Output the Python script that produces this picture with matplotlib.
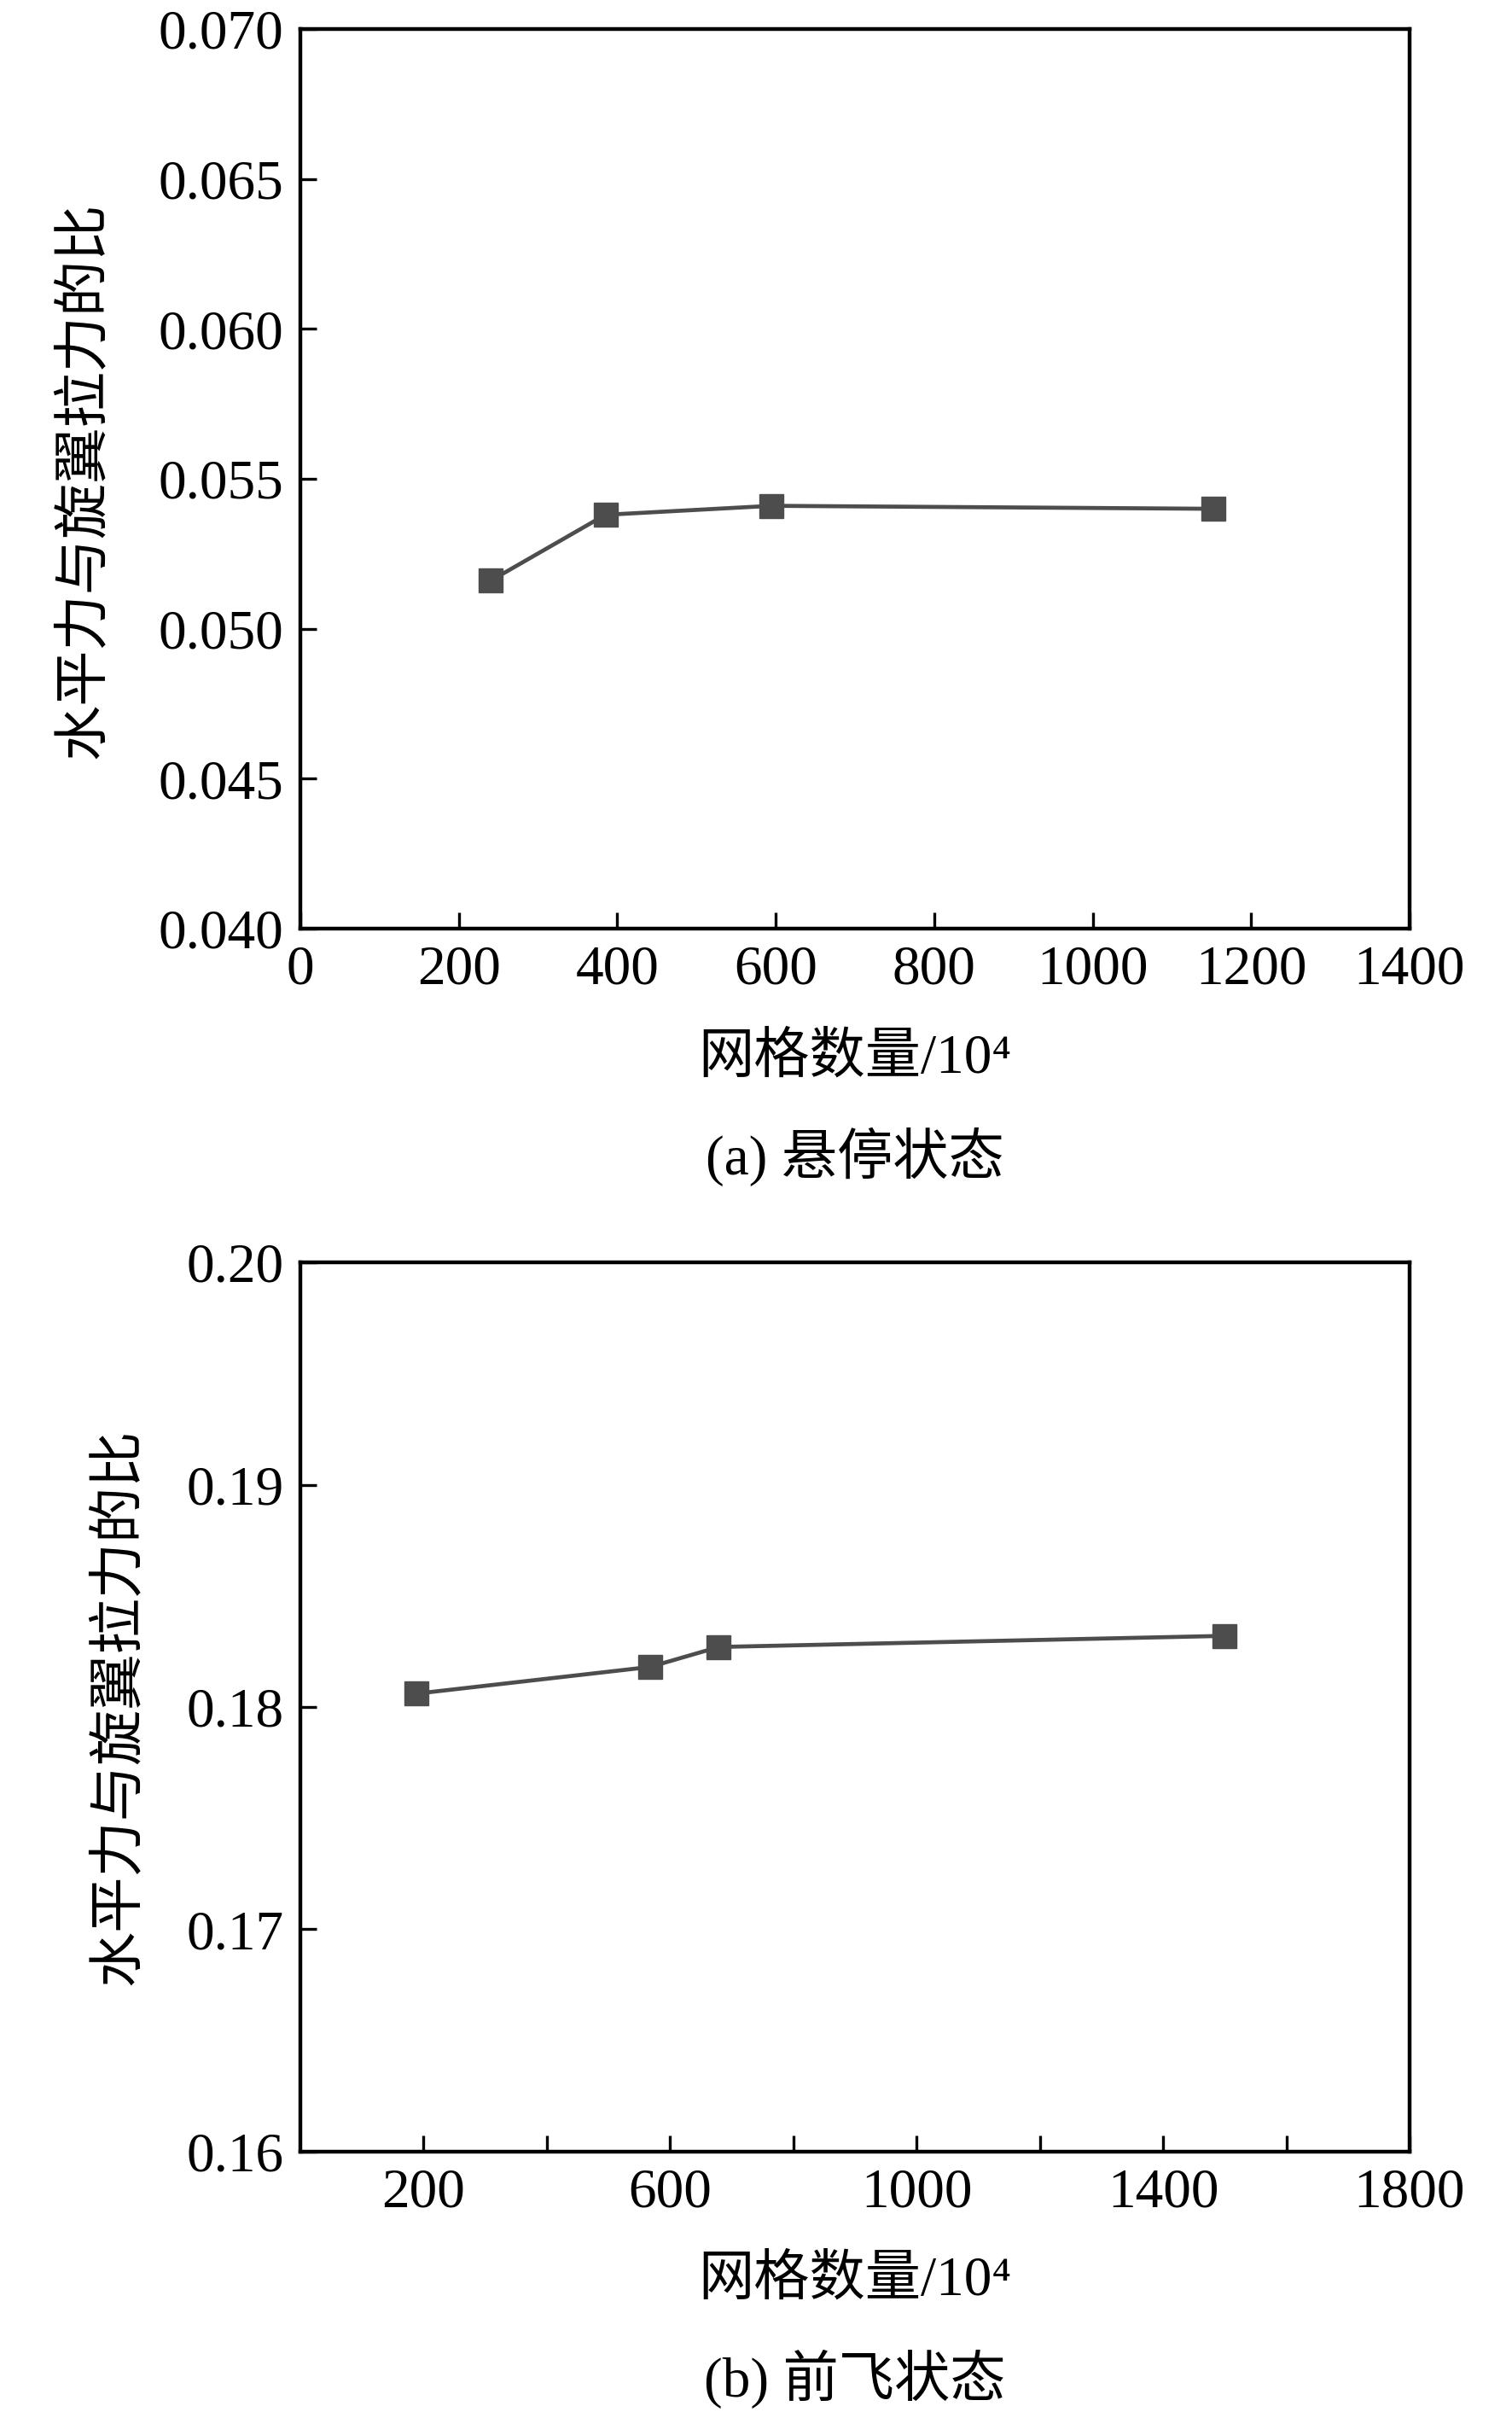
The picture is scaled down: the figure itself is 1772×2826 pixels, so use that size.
import matplotlib
matplotlib.use("Agg")
import matplotlib.pyplot as plt
from matplotlib.ticker import FixedLocator, NullFormatter

plt.rcParams['font.family'] = 'Liberation Serif'

# (a) hover
hover_grid = [240, 385, 595, 1152]
hover_ratio = [0.0516, 0.0538, 0.0541, 0.0540]
# (b) forward flight
fwd_grid = [188, 567, 679, 1500]
fwd_ratio = [0.1806, 0.1818, 0.1827, 0.1832]

hover_xticks = [0, 200, 400, 600, 800, 1000, 1200, 1400]
hover_yticks = [0.040, 0.045, 0.050, 0.055, 0.060, 0.065, 0.070]
fwd_xticks = [200, 600, 1000, 1400, 1800]
fwd_xminor = [400, 800, 1200, 1600]
fwd_yticks = [0.16, 0.17, 0.18, 0.19, 0.20]

ylabel = "水平力与旋翼拉力的比"
xlabel = "网格数量/10⁴"
cap_a = "(a) 悬停状态"
cap_b = "(b) 前飞状态"

W, H = 1772, 2826
fig = plt.figure(figsize=(W / 100, H / 100), dpi=100)
fs = 47
col = "#4d4d4d"
serif = "Liberation Serif"
fam = ['Liberation Serif', 'Noto Sans CJK SC']


def px_axes(left, top, right, bottom):
    return fig.add_axes([left / W, 1 - bottom / H, (right - left) / W, (bottom - top) / H])


def style(ax):
    for s in ax.spines.values():
        s.set_linewidth(3.2)
    ax.tick_params(direction="in", length=14, width=2.4, pad=14, which="both")


# top chart
ax1 = px_axes(352, 34, 1652, 1088)
ax1.plot(hover_grid, hover_ratio, color=col, lw=3.4, marker="s", ms=20)
ax1.set_xlim(0, 1400)
ax1.set_ylim(0.040, 0.070)
ax1.set_xticks(hover_xticks)
ax1.set_xticklabels([str(v) for v in hover_xticks], fontsize=fs, fontfamily=serif)
ax1.set_yticks(hover_yticks)
ax1.set_yticklabels([f"{v:.3f}" for v in hover_yticks], fontsize=fs, fontfamily=serif)
style(ax1)

# bottom chart
ax2 = px_axes(352, 1479, 1652, 2521)
ax2.plot(fwd_grid, fwd_ratio, color=col, lw=3.4, marker="s", ms=20)
ax2.set_xlim(0, 1800)
ax2.set_ylim(0.16, 0.20)
ax2.set_xticks(fwd_xticks)
ax2.set_xticklabels([str(v) for v in fwd_xticks], fontsize=fs, fontfamily=serif)
ax2.xaxis.set_minor_locator(FixedLocator(fwd_xminor))
ax2.xaxis.set_minor_formatter(NullFormatter())
ax2.set_yticks(fwd_yticks)
ax2.set_yticklabels([f"{v:.2f}" for v in fwd_yticks], fontsize=fs, fontfamily=serif)
style(ax2)

fig.text(99 / W, 1 - 563 / H, ylabel, rotation=90, ha="center", va="center",
         fontsize=fs, family=fam)
fig.text(140 / W, 1 - 2000 / H, ylabel, rotation=90, ha="center", va="center",
         fontsize=fs, family=fam)
fig.text(1002 / W, 1 - 1240 / H, xlabel, ha="center", va="center", fontsize=fs, family=fam)
fig.text(1002 / W, 1 - 1355 / H, cap_a, ha="center", va="center", fontsize=fs, family=fam)
fig.text(1002 / W, 1 - 2672 / H, xlabel, ha="center", va="center", fontsize=fs, family=fam)
fig.text(1002 / W, 1 - 2787 / H, cap_b, ha="center", va="center", fontsize=fs, family=fam)

fig.savefig("out.png", dpi=100)
